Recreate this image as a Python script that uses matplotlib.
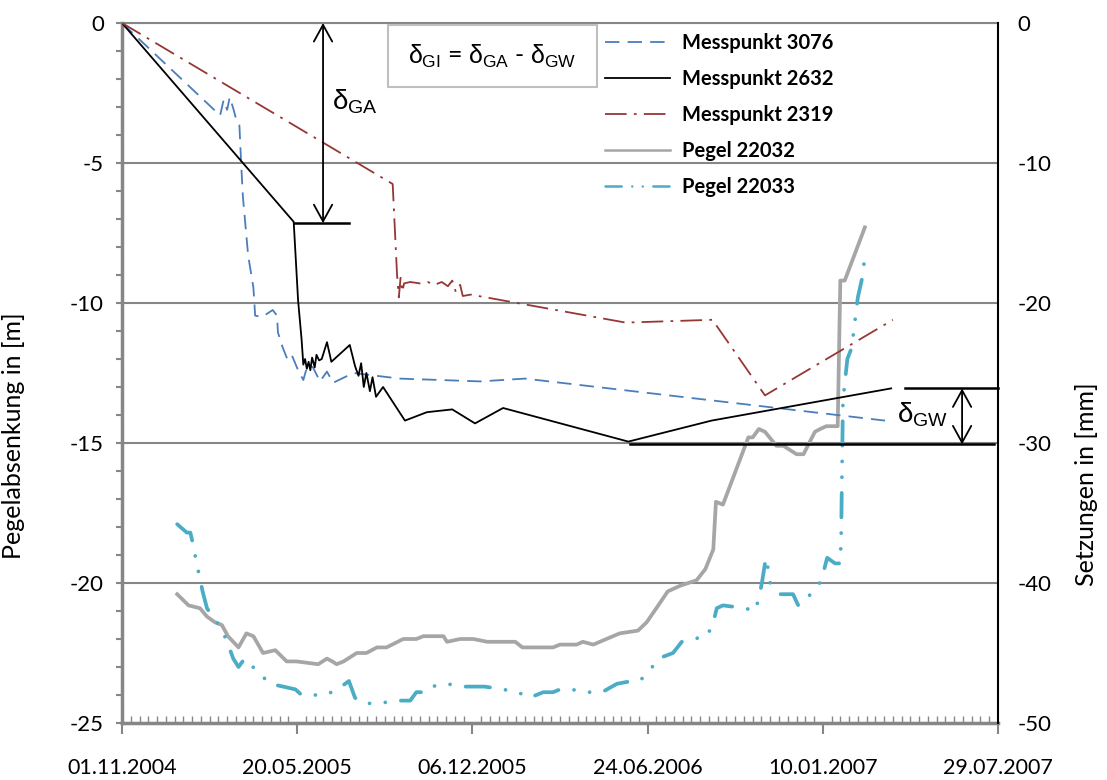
import datetime
import matplotlib
matplotlib.use("Agg")
import matplotlib.pyplot as plt
from matplotlib.patches import Rectangle

plt.rcParams['font.family'] = ['Lato', 'DejaVu Sans']
plt.rcParams['axes.unicode_minus'] = False
plt.rcParams['mathtext.fontset'] = 'custom'
plt.rcParams['mathtext.rm'] = 'Liberation Sans'
plt.rcParams['mathtext.it'] = 'Liberation Sans'
plt.rcParams['mathtext.bf'] = 'Liberation Sans:bold'

# x = days since 01.11.2004
start_date = datetime.date(2004, 11, 1)

# Messpunkte -> Setzungen [mm] (right axis)
mp3076_days = [0, 112, 116, 120, 123, 127, 130, 134, 136, 138, 144, 150, 152, 160, 172, 177, 178,
               183, 188, 193, 201, 207, 212, 218, 226, 234, 241, 264, 317, 409, 460, 871]
mp3076_mm = [0, -6.6, -5.5, -6.2, -5.3, -6.1, -6.8, -7.3, -10.0, -12.4, -16.6, -18.9, -20.9, -21.0,
             -20.5, -20.9, -22.1, -23.1, -23.9, -23.6, -24.8, -25.5, -24.4, -24.6, -25.6, -24.9,
             -25.7, -25.0, -25.4, -25.6, -25.4, -28.4]

mp2632_days = [0, 196, 201, 205, 207, 209, 211, 213, 215, 217, 220, 222, 225, 228, 234, 239, 260,
               266, 270, 273, 276, 279, 283, 286, 290, 298, 323, 348, 377, 403, 435, 578, 673, 878]
mp2632_mm = [0, -14.2, -19.8, -22.6, -24.4, -24.0, -24.7, -24.2, -24.8, -23.9, -24.6, -23.7, -24.1,
             -24.0, -22.8, -24.2, -23.0, -24.5, -25.2, -24.3, -26.0, -25.0, -26.3, -25.3, -26.7,
             -26.0, -28.4, -27.8, -27.6, -28.6, -27.5, -29.9, -28.4, -26.1]

mp2319_days = [0, 309, 314, 316, 318, 320, 322, 329, 340, 349, 357, 365, 372, 377, 381, 386, 389,
               398, 575, 674, 734, 880]
mp2319_mm = [0, -11.5, -18.0, -19.6, -18.2, -19.2, -18.6, -18.5, -18.6, -18.5, -18.7, -18.5, -18.8,
             -18.4, -19.2, -18.7, -19.5, -19.4, -21.4, -21.2, -26.6, -21.2]

# Pegel -> Pegelabsenkung [m] (left axis)
p22032_days = [63, 76, 89, 97, 106, 114, 121, 133, 142, 150, 161, 175, 188, 199, 224, 234, 240, 245,
               253, 268, 279, 291, 302, 321, 336, 344, 367, 371, 386, 401, 417, 449, 457, 492, 500,
               519, 526, 538, 553, 568, 589, 599, 610, 623, 637, 656, 666, 675, 678, 686, 715, 720,
               727, 734, 747, 755, 770, 778, 791, 797, 804, 817, 820, 825, 848]
p22032_m = [-20.4, -20.8, -20.9, -21.2, -21.4, -21.5, -21.9, -22.3, -21.8, -21.9, -22.5, -22.4, -22.8,
            -22.8, -22.9, -22.7, -22.8, -22.9, -22.8, -22.5, -22.5, -22.3, -22.3, -22.0, -22.0,
            -21.9, -21.9, -22.1, -22.0, -22.0, -22.1, -22.1, -22.3, -22.3, -22.2, -22.2, -22.1,
            -22.2, -22.0, -21.8, -21.7, -21.4, -20.9, -20.3, -20.1, -19.9, -19.5, -18.8, -17.1,
            -17.2, -14.8, -14.8, -14.5, -14.6, -15.1, -15.1, -15.4, -15.4, -14.6, -14.5, -14.4,
            -14.4, -9.2, -9.2, -7.3]

p22033_days = [63, 74, 78, 81, 84, 88, 92, 97, 103, 113, 120, 127, 133, 140, 143, 156, 169, 184, 198,
               205, 215, 232, 246, 259, 266, 275, 294, 312, 329, 336, 346, 353, 371, 388, 405, 414,
               435, 452, 465, 481, 492, 500, 513, 530, 548, 565, 582, 591, 603, 612, 629, 639, 652,
               668, 675, 679, 686, 711, 723, 728, 731, 735, 737, 740, 751, 766, 772, 777, 783, 795,
               800, 805, 814, 820, 821, 823, 828, 833, 840, 845, 849]
p22033_m = [-17.9, -18.2, -18.2, -18.6, -19.1, -19.7, -20.3, -20.9, -21.2, -21.6, -22.1, -22.7, -23.0,
            -22.7, -22.8, -23.2, -23.6, -23.7, -23.8, -24.0, -24.0, -24.0, -23.8, -23.5, -24.1,
            -24.3, -24.3, -24.2, -24.2, -23.9, -23.9, -23.7, -23.6, -23.7, -23.7, -23.7, -23.8,
            -23.9, -24.1, -23.9, -23.9, -23.8, -23.8, -23.9, -23.9, -23.6, -23.5, -23.5, -23.1,
            -22.7, -22.5, -22.1, -22.0, -21.9, -21.4, -20.9, -20.8, -20.9, -21.0, -20.4, -19.9,
            -19.1, -19.4, -20.0, -20.4, -20.4, -20.8, -20.7, -20.5, -20.1, -19.7, -19.1, -19.3,
            -19.3, -18.2, -13.5, -12.0, -11.6, -9.8, -9.1, -8.1]

x_tick_days = [0, 200, 400, 600, 800, 1000]

GRID = '#868686'

fig = plt.figure(figsize=(11.07, 7.80), dpi=100)
ax = fig.add_axes([122 / 1107, 57 / 780, 876 / 1107, 700 / 780])
ax2 = ax.twinx()

# Pegel on left axis
l4, = ax.plot(p22032_days, p22032_m, color='#A6A6A6', lw=2.7, label='Pegel 22032')
l5, = ax.plot(p22033_days, p22033_m, color='#4BACC6', lw=2.7, dash_capstyle='round',
              linestyle=(0, (6.5, 4.2, 0.01, 4.2, 0.01, 4.2)), label='Pegel 22033')

# Messpunkte on right axis
l1, = ax2.plot(mp3076_days, mp3076_mm, color='#4A7EBB', lw=1.3, linestyle=(0, (8, 4.5)),
               label='Messpunkt 3076')
l2, = ax2.plot(mp2632_days, mp2632_mm, color='black', lw=1.3, label='Messpunkt 2632')
l3, = ax2.plot(mp2319_days, mp2319_mm, color='#953735', lw=1.3, linestyle=(0, (12, 4, 1.5, 4)),
               label='Messpunkt 2319')

ax.set_xlim(0, 1000)
ax.set_ylim(-25, 0)
ax2.set_ylim(-50, 0)

ax.set_xticks(x_tick_days)
ax.set_xticks(range(0, 1001, 10), minor=True)
ax.set_xticklabels([(start_date + datetime.timedelta(days=d)).strftime('%d.%m.%Y') for d in x_tick_days])
ax.set_yticks(range(-25, 1, 5))
ax.set_yticks(range(-25, 1, 1), minor=True)
ax2.set_yticks(range(-50, 1, 10))

ax.tick_params(axis='x', which='major', direction='out', length=8, width=1.5, color=GRID,
               pad=17, labelsize=15.5)
ax.tick_params(axis='x', which='minor', direction='in', length=5, width=1, color=GRID)
ax.tick_params(axis='y', which='both', direction='out', length=4, width=1.5, color=GRID,
               pad=9, labelsize=16)
ax2.tick_params(axis='y', length=0, pad=14, labelsize=16)

ax.yaxis.grid(True, which='major', color=GRID, lw=1.5)
ax.set_axisbelow(True)

for s in ['left', 'bottom']:
    ax.spines[s].set_color(GRID)
    ax.spines[s].set_linewidth(2.5)
ax.spines['top'].set_color(GRID)
ax.spines['top'].set_linewidth(1.5)
ax.spines['right'].set_visible(False)
ax2.spines['right'].set_color('black')
ax2.spines['right'].set_linewidth(1.5)
for s in ['left', 'bottom', 'top']:
    ax2.spines[s].set_visible(False)

ax.set_ylabel('Pegelabsenkung in [m]', fontsize=18)
ax.yaxis.set_label_coords(-0.111, 0.41)
ax2.set_ylabel('Setzungen in [mm]', fontsize=18)
ax2.yaxis.set_label_coords(1.088, 0.341)

# annotations
arrow = dict(arrowstyle='<->,head_length=0.6,head_width=0.33', lw=1.3, color='black',
             mutation_scale=20, shrinkA=0, shrinkB=0)
ax2.annotate('', xy=(229.5, 0), xytext=(229.5, -14.3), arrowprops=arrow)
ax2.plot([196, 259], [-14.3, -14.3], color='black', lw=1.8)
ax2.text(240, -5.6, r'$\delta_{GA}$', fontsize=20, ha='left', va='center')

ax2.annotate('', xy=(959, -26.1), xytext=(959, -30.1), arrowprops=arrow)
ax2.plot([894, 1000], [-26.1, -26.1], color='black', lw=1.8, clip_on=False)
ax2.plot([580, 996], [-30.1, -30.1], color='black', lw=1.8)
ax2.text(885, -28.0, r'$\delta_{GW}$', fontsize=20, ha='left', va='center')

fig.patches.append(Rectangle((388 / 1107, 1 - 87 / 780), 209 / 1107, 62 / 780,
                             transform=fig.transFigure, fill=False, edgecolor='#BFBFBF', lw=1.5))
fig.text(492 / 1107, 1 - 56 / 780, r'$\delta_{GI}$ = $\delta_{GA}$ - $\delta_{GW}$', fontsize=18,
         ha='center', va='center')

leg = fig.legend([l1, l2, l3, l4, l5], [h.get_label() for h in [l1, l2, l3, l4, l5]],
                 loc='upper left', bbox_to_anchor=(605 / 1107, 1 - 33 / 780), frameon=False,
                 prop={'weight': 'bold', 'size': 14.5}, handlelength=3.25, handletextpad=0.55,
                 labelspacing=0.8, borderpad=0, borderaxespad=0)
for h in leg.get_lines()[3:]:
    h.set_linewidth(1.8)

fig.savefig('out.png', dpi=100)
